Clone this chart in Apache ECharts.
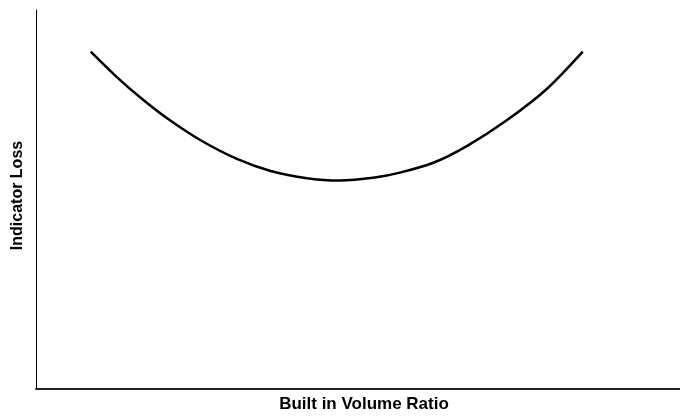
<!DOCTYPE html>
<html>
<head>
<meta charset="utf-8">
<script src="https://cdn.jsdelivr.net/npm/echarts@6/dist/echarts.min.js"></script>
<style>html,body{margin:0;padding:0;background:#fff}#c{width:680px;height:418px}</style>
</head>
<body>
<div id="c"></div>
<script>
const xName = 'Built in Volume Ratio';
const yName = 'Indicator Loss';
const ratio = [0.85, 1.23, 1.62, 2.03, 2.55, 3.12, 3.63, 4.18, 4.72, 5.26, 5.65, 6.17, 6.69, 7.31, 7.94, 8.49];
const loss  = [8.90, 8.27, 7.69, 7.15, 6.57, 6.07, 5.76, 5.57, 5.50, 5.58, 5.71, 5.97, 6.41, 7.09, 7.93, 8.90];

const chart = echarts.init(document.getElementById('c'), null, {renderer: 'canvas'});
chart.setOption({
  animation: false,
  backgroundColor: '#fff',
  grid: {left: 36, right: 0, top: 10, bottom: 26, containLabel: false},
  xAxis: {
    type: 'value', min: 0, max: 10,
    name: xName, nameLocation: 'middle', nameGap: 7,
    nameTextStyle: {fontFamily: 'Liberation Sans', fontWeight: 'bold', fontSize: 17, color: '#000', padding: [0, 0, 0, 12]},
    axisLine: {show: true, lineStyle: {color: '#222', width: 2}},
    axisTick: {show: false}, axisLabel: {show: false}, splitLine: {show: false}
  },
  yAxis: {
    type: 'value', min: 0, max: 10,
    name: yName, nameLocation: 'middle', nameGap: 10, nameRotate: 90,
    nameTextStyle: {fontFamily: 'Liberation Sans', fontWeight: 'bold', fontSize: 16, color: '#000', padding: [0, 0, 0, 8]},
    axisLine: {show: true, lineStyle: {color: '#000', width: 1}},
    axisTick: {show: false}, axisLabel: {show: false}, splitLine: {show: false}
  },
  series: [{
    type: 'line',
    data: ratio.map((r, i) => [r, loss[i]]),
    smooth: 0.3,
    showSymbol: false,
    lineStyle: {color: '#000', width: 2.5}
  }]
});
</script>
</body>
</html>
